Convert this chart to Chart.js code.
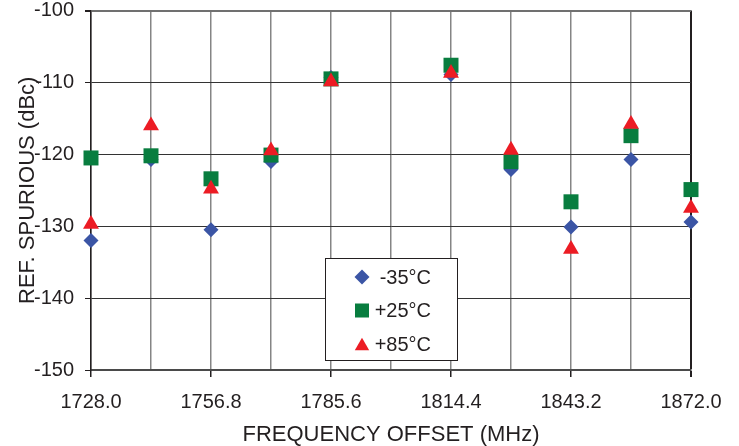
<!DOCTYPE html>
<html>
<head>
<meta charset="utf-8">
<script src="https://cdn.jsdelivr.net/npm/chart.js@4/dist/chart.umd.min.js"></script>
<style>
    body { margin: 0; background: #fff; }
</style>
</head>
<body>
<canvas id="myChart" width="739" height="446"></canvas>
<script>
// frequencies (MHz) where the points sit
const freqs = [1728.0, 1742.4, 1756.8, 1771.2, 1785.6, 1814.4, 1828.8, 1843.2, 1857.6, 1872.0];

// ref. spurious (dBc) per temperature
const minus35 = [-132.0, -120.7, -130.5, -121.0, -109.3, -108.9, -122.1, -130.1, -120.7, -129.4];
const plus25  = [-120.5, -120.2, -123.4, -120.1, -109.5, -107.6, -121.0, -126.6, -117.4, -124.9];
const plus85  = [-129.7, -116.0, -124.8, -119.5, -109.9, -108.7, -119.4, -133.2, -115.8, -127.5];

const seriesNames = ['-35°C', '+25°C', '+85°C'];

// x gridlines and their labels (every other one labelled)
const xGrid = [1728.0, 1742.4, 1756.8, 1771.2, 1785.6, 1800.0, 1814.4, 1828.8, 1843.2, 1857.6, 1872.0];
const xTickLabels = ['1728.0', '', '1756.8', '', '1785.6', '', '1814.4', '', '1843.2', '', '1872.0'];
const yTicks = [-150, -140, -130, -120, -110, -100];

const font = '"Liberation Sans", Arial, Helvetica, sans-serif';
const textColor = '#231f20';
const blue = '#3b55a5';
const green = '#087d3f';
const red = '#ec1c24';

const toPoints = vals => freqs.map((f, i) => ({ x: f, y: vals[i] }));

// legend in a white box inside the plot
const boxLegend = {
    id: 'boxLegend',
    afterDraw(chart) {
        const c = chart.ctx;
        c.save();
        c.fillStyle = '#fff';
        c.fillRect(326, 259, 131, 101);
        c.strokeStyle = textColor;
        c.lineWidth = 1;
        c.strokeRect(325.5, 258.5, 132, 102);
        c.font = '20px ' + font;
        c.textAlign = 'right';
        c.textBaseline = 'middle';
        const sizes = [7.5, 9.9, 8.3];
        chart.data.datasets.forEach((ds, i) => {
            const y = 277 + i * 33.5;
            c.fillStyle = ds.backgroundColor;
            Chart.helpers.drawPoint(c, { pointStyle: ds.pointStyle, radius: sizes[i], borderWidth: 0, rotation: 0 }, 362, y + (i === 2 ? 2 : 0));
            c.fillStyle = textColor;
            c.fillText(ds.label, 431, y + 1);
        });
        c.restore();
    }
};

const ctx = document.getElementById('myChart');

const myChart = new Chart(ctx, {
    type: 'scatter',
    data: {
        datasets: [{
            label: seriesNames[0],
            data: toPoints(minus35),
            pointStyle: 'rectRot',
            pointRadius: 7.5,
            backgroundColor: blue,
            borderColor: blue,
            pointBorderWidth: 0,
            order: 2,
            clip: false
        }, {
            label: seriesNames[1],
            data: toPoints(plus25),
            pointStyle: 'rect',
            pointRadius: 10.6,
            backgroundColor: green,
            borderColor: green,
            pointBorderWidth: 0,
            order: 1,
            clip: false
        }, {
            label: seriesNames[2],
            data: toPoints(plus85),
            pointStyle: 'triangle',
            pointRadius: 9.2,
            backgroundColor: red,
            borderColor: red,
            pointBorderWidth: 0,
            order: 0,
            clip: false
        }]
    },
    options: {
        responsive: false,
        animation: false,
        events: [],
        layout: { padding: { top: 8, right: 48, left: 0, bottom: 0 } },
        plugins: {
            legend: { display: false },
            tooltip: { enabled: false }
        },
        scales: {
            x: {
                type: 'linear',
                min: 1728,
                max: 1872,
                afterBuildTicks: s => { s.ticks = xGrid.map(v => ({ value: v })); },
                afterFit: s => { s.height = 76; s.paddingLeft = 0; s.paddingRight = 0; },
                ticks: {
                    autoSkip: false,
                    maxRotation: 0,
                    minRotation: 0,
                    padding: 13,
                    color: textColor,
                    font: { size: 20, family: font },
                    callback: (v, i) => xTickLabels[i]
                },
                grid: {
                    color: c => c.index === xGrid.length - 1 ? '#231f20' : '#858585',
                    lineWidth: c => c.index === xGrid.length - 1 ? 2 : 1.5,
                    tickLength: 7,
                    tickColor: c => c.index % 2 === 0 ? '#231f20' : 'rgba(0,0,0,0)'
                },
                border: { color: '#4a4a4a', width: 2 },
                title: {
                    display: true,
                    text: 'FREQUENCY OFFSET (MHz)',
                    color: textColor,
                    font: { size: 22, family: font, lineHeight: 1 },
                    padding: { top: 0, bottom: 0 }
                }
            },
            y: {
                min: -150,
                max: -100,
                afterBuildTicks: s => { s.ticks = yTicks.map(v => ({ value: v })); },
                afterFit: s => { s.width = 91; s.paddingTop = 0; s.paddingBottom = 0; },
                ticks: {
                    padding: 11,
                    color: textColor,
                    font: { size: 20, family: font },
                    callback: v => String(v)
                },
                grid: {
                    color: c => c.index === yTicks.length - 1 ? '#707070' : '#333',
                    lineWidth: c => c.index === yTicks.length - 1 ? 2 : 1,
                    tickLength: 6,
                    tickColor: '#231f20'
                },
                border: { color: '#231f20', width: 1.5 },
                title: {
                    display: true,
                    text: 'REF. SPURIOUS (dBc)',
                    color: textColor,
                    font: { size: 22, family: font, lineHeight: 1 },
                    padding: { top: 17, bottom: 0 }
                }
            }
        }
    },
    plugins: [boxLegend]
});
</script>
</body>
</html>
